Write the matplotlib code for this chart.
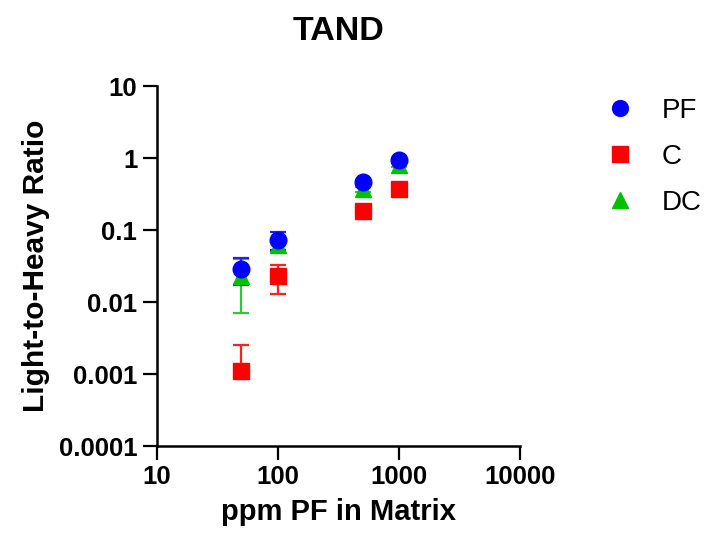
import matplotlib.pyplot as plt
import numpy as np

plt.rcParams['font.family'] = ['Liberation Sans', 'DejaVu Sans']

# concentration of PF spiked into the matrix (ppm)
conc = [50, 100, 500, 1000]

# light-to-heavy ratios, mean and SD per series
pf_mean = [0.029, 0.073, 0.46, 0.93]
pf_sd = [0.012, 0.021, 0.04, 0.08]
c_mean = [0.0011, 0.023, 0.185, 0.37]
c_sd = [0.0014, 0.010, 0.02, 0.03]
dc_mean = [0.023, 0.062, 0.37, 0.80]
dc_sd = [0.016, 0.012, 0.03, 0.06]

y_ticks = [0.0001, 0.001, 0.01, 0.1, 1, 10]
y_labels = ['0.0001', '0.001', '0.01', '0.1', '1', '10']
x_ticks = [10, 100, 1000, 10000]
x_labels = ['10', '100', '1000', '10000']


def log_err(mean, sd):
    # drop the lower whisker when it would go below zero on the log axis
    mean = np.array(mean)
    sd = np.array(sd)
    lower = np.where(mean - sd > 0, sd, 0)
    return [lower, sd]


fig = plt.figure(figsize=(7.06, 5.38), dpi=100)
ax = fig.add_axes([0.222, 0.171, 0.515, 0.669])

series = [
    ('DC', dc_mean, dc_sd, '^', '#00c000', '#33c833'),
    ('C', c_mean, c_sd, 's', '#ff0000', '#ff2020'),
    ('PF', pf_mean, pf_sd, 'o', '#0000ff', '#2020ff'),
]
handles = {}
for name, mean, sd, mk, col, ecol in series:
    h = ax.errorbar(conc, mean, yerr=log_err(mean, sd), fmt=mk, color=col,
                    ecolor=ecol, markersize=12, elinewidth=1.6, capsize=6,
                    capthick=1.6, label=name, zorder=3)
    handles[name] = h

ax.set_xscale('log')
ax.set_yscale('log')
ax.set_xlim(10, 10000)
ax.set_ylim(0.0001, 10)
ax.set_xticks(x_ticks, x_labels)
ax.set_yticks(y_ticks, y_labels)
ax.minorticks_off()

for side in ['top', 'right']:
    ax.spines[side].set_visible(False)
for side in ['left', 'bottom']:
    ax.spines[side].set_linewidth(1.8)
ax.tick_params(axis='both', length=10, width=1.6, pad=4, labelsize=18.5)
for lbl in ax.get_xticklabels() + ax.get_yticklabels():
    lbl.set_fontweight('bold')

ax.set_title('TAND', fontsize=24.5, fontweight='bold', pad=33)
ax.set_xlabel('ppm PF in Matrix', fontsize=21, fontweight='bold', labelpad=6)
ax.set_ylabel('Light-to-Heavy Ratio', fontsize=21.5, fontweight='bold', labelpad=6)

leg_handles = [handles['PF'][0], handles['C'][0], handles['DC'][0]]
ax.legend(leg_handles, ['PF', 'C', 'DC'], loc='upper left',
          bbox_to_anchor=(0.823, 0.864), bbox_transform=fig.transFigure,
          frameon=False, fontsize=20, handlelength=1.0, handletextpad=1.0,
          labelspacing=0.72, markerscale=0.95)

fig.savefig('out.png', dpi=100)
